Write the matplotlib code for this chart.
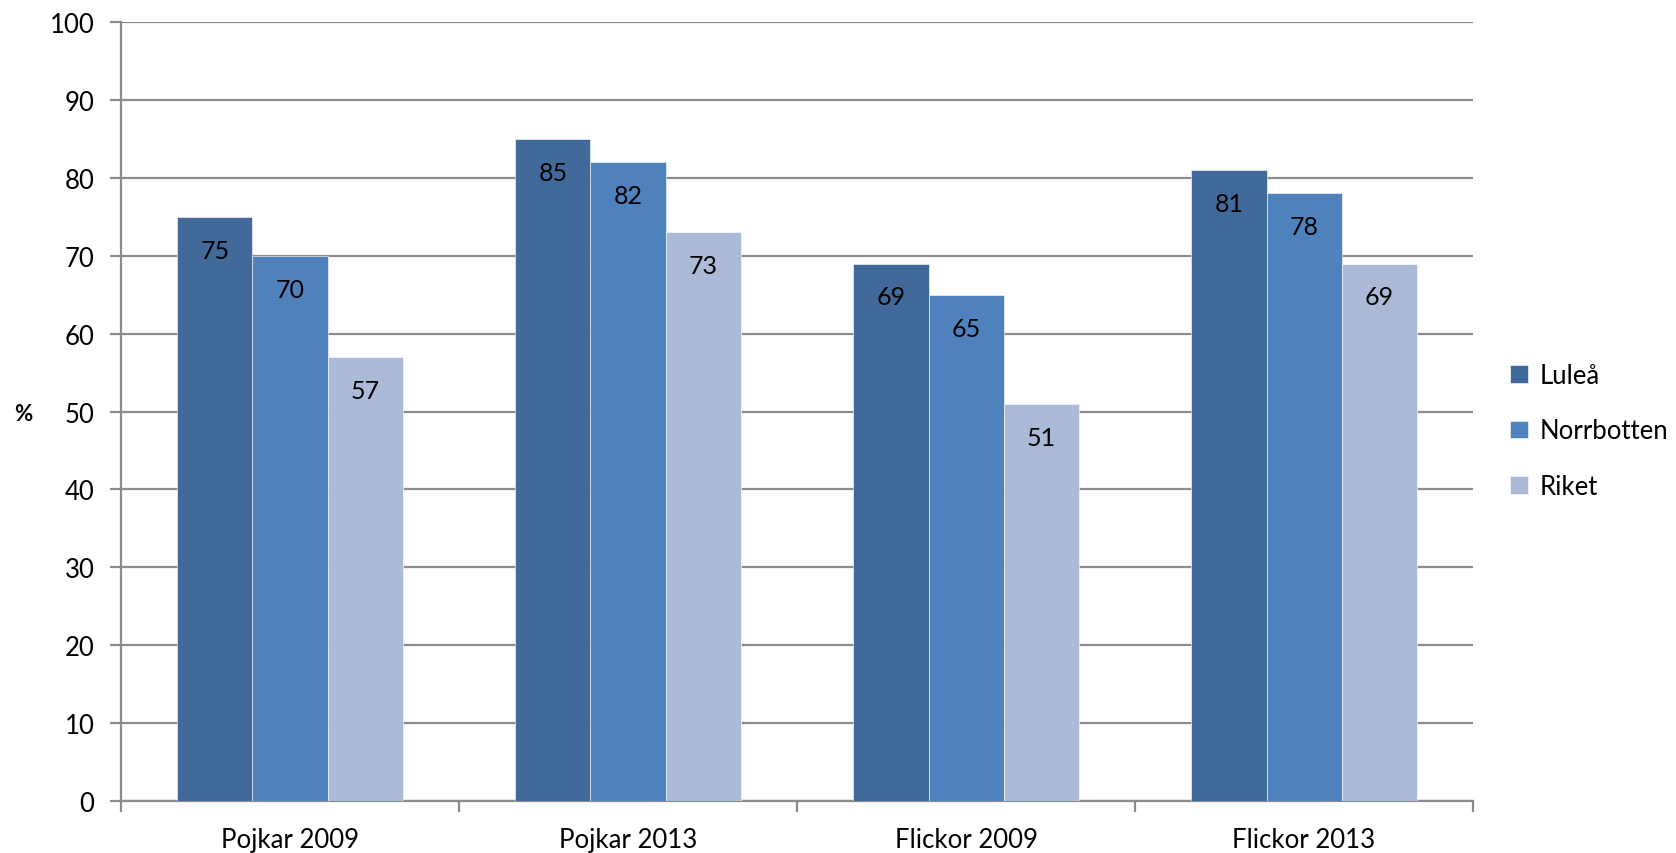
import numpy as np
import matplotlib
matplotlib.use("Agg")
from matplotlib import pyplot as plt

# Data
categories = ["Pojkar 2009", "Pojkar 2013", "Flickor 2009", "Flickor 2013"]
series_names = ["Luleå", "Norrbotten", "Riket"]
lulea = [75, 85, 69, 81]
norrbotten = [70, 82, 65, 78]
riket = [57, 73, 51, 69]
colors = ["#416A9B", "#4F81BD", "#AABAD7"]

plt.rcParams['font.family'] = ['Lato', 'DejaVu Sans']

fig = plt.figure(figsize=(16.76, 8.54), dpi=100)
ax = fig.add_axes([0.0722, 0.0609, 0.8067, 0.9121])

x = np.arange(len(categories))
w = 0.222
for i, (name, vals) in enumerate(zip(series_names, [lulea, norrbotten, riket])):
    pos = x + (i - 1) * w
    ax.bar(pos, vals, width=w, color=colors[i], label=name, zorder=3,
           edgecolor="white", linewidth=0.4)
    for xp, v in zip(pos, vals):
        ax.annotate(str(v), (xp, v), xytext=(0, -24), textcoords="offset points",
                    ha="center", va="center", fontsize=18, color="black", zorder=4)

ax.set_xlim(-0.5, len(categories) - 0.5)
ax.set_ylim(0, 100)
ax.set_yticks(range(0, 101, 10))
ax.yaxis.grid(True, color="#8C8C8C", linewidth=1.6, zorder=0)
ax.set_axisbelow(True)

ax.set_xticks(np.arange(-0.5, len(categories), 1.0))
ax.set_xticklabels([])
ax.set_xticks(x, minor=True)
ax.set_xticklabels(categories, minor=True, fontsize=18.5)
ax.tick_params(axis="x", which="major", direction="out", length=8, width=1.6, color="#8C8C8C")
ax.tick_params(axis="x", which="minor", length=0, pad=19)
ax.tick_params(axis="y", direction="out", length=8, width=1.6, color="#8C8C8C",
               labelsize=18.5, pad=11)

for s in ["top", "right"]:
    ax.spines[s].set_visible(False)
for s in ["left", "bottom"]:
    ax.spines[s].set_color("#8C8C8C")
    ax.spines[s].set_linewidth(1.6)

fig.text(23 / 1676, 1 - 415 / 854, "%", fontsize=16, fontweight="bold",
         ha="center", va="center")

ax.legend(loc="center left", bbox_to_anchor=(1.02, 0.475), frameon=False,
          fontsize=18.5, handlelength=0.7, handleheight=0.7, handletextpad=0.45,
          labelspacing=1.2, borderaxespad=0)

fig.savefig("out.png", dpi=100)
